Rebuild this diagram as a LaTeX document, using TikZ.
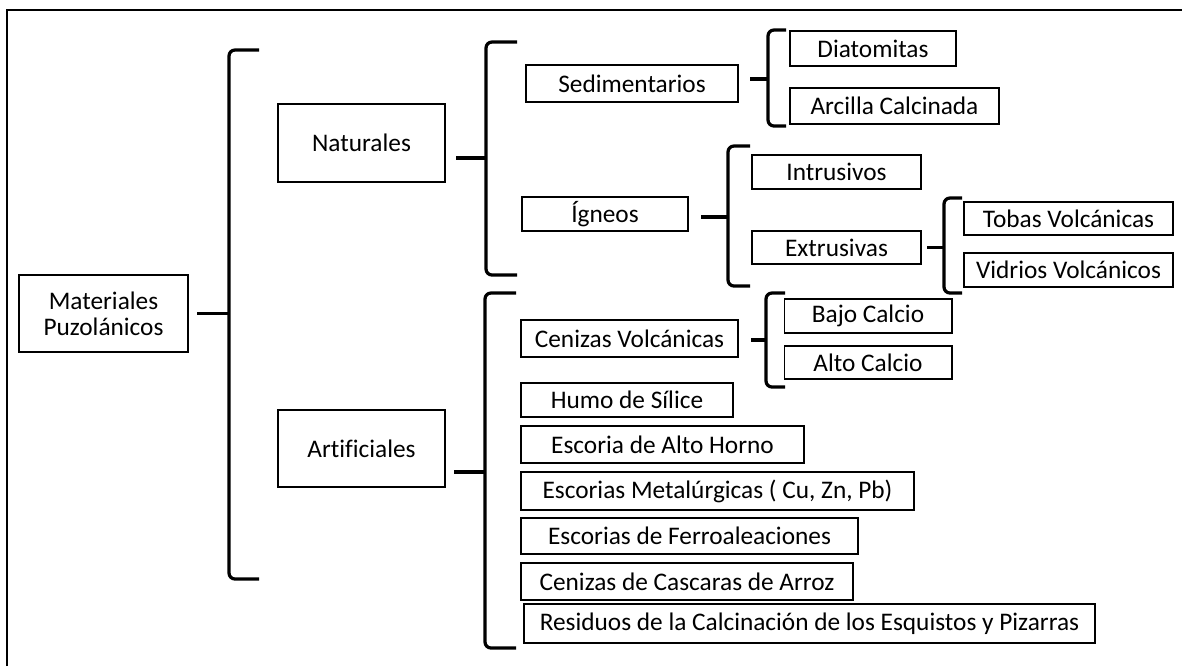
\documentclass[tikz,border=0pt]{standalone}
\usepackage{fontspec}
\setmainfont{Carlito}[Ligatures=NoCommon]
\usepackage{tikz}
\usetikzlibrary{positioning}
\tikzset{
  caja/.style={draw, line width=1.4pt, fill=white, inner sep=0pt, align=center, font=\fontsize{18}{18.5}\selectfont, minimum height=0.875cm},
  llave/.style={line width=2.3pt, rounded corners=0.15cm},
  marco/.style={line width=1.3pt}
}

\begin{document}
\begin{tikzpicture}[x=0.025cm,y=-0.025cm]
  \useasboundingbox (0,0) rectangle (1182,666);
  \draw[marco] (7,666) -- (7,10) -- (1182,10);

  % primer y segundo nivel
  \node[caja, minimum width=4.225cm, minimum height=1.925cm] (mat) at (103.5,313.5) {Materiales\\Puzolánicos};
  \node[caja, minimum width=4.175cm, minimum height=1.95cm] (nat) at (361.5,143) {Naturales};
  \node[caja, minimum width=4.175cm, minimum height=1.925cm] (art) at (361.5,448.5) {Artificiales};

  % naturales
  \node[caja, minimum width=5.3cm, minimum height=0.925cm] (sed) at (632,83.5) {Sedimentarios};
  \node[caja, minimum width=4.15cm, minimum height=0.85cm] (ign) at (605,214) {Ígneos};
  \node[caja, minimum width=4.15cm, minimum height=0.875cm] (dia) at (873,48.5) {Diatomitas};
  \node[caja, minimum width=5.225cm, minimum height=0.9cm] (arc) at (894.5,106) {Arcilla Calcinada};
  \node[caja, minimum width=4.225cm, minimum height=0.85cm] (int) at (836.5,172) {Intrusivos};
  \node[caja, minimum width=4.225cm, minimum height=0.825cm] (ext) at (836.5,247.5) {Extrusivas};
  \node[caja, minimum width=5.225cm, minimum height=0.825cm] (tob) at (1068.5,218.5) {Tobas Volcánicas};
  \node[caja, minimum width=5.225cm, minimum height=0.85cm] (vid) at (1068.5,270) {Vidrios Volcánicos};

  % artificiales
  \node[caja, minimum width=5.425cm, minimum height=0.925cm] (cen) at (629.5,338.5) {Cenizas Volcánicas};
  \node[caja, minimum width=4.175cm, minimum height=0.85cm] (baj) at (868,316) {Bajo Calcio};
  \node[caja, minimum width=4.175cm, minimum height=0.825cm] (alt) at (868,362.5) {Alto Calcio};
  \node[caja, minimum width=5.3cm, minimum height=0.85cm] (hum) at (627,400) {Humo de Sílice};
  \node[caja, minimum width=7.075cm, minimum height=0.925cm] (hor) at (662.5,444.5) {Escoria de Alto Horno};
  \node[caja, minimum width=9.825cm, minimum height=0.95cm] (met) at (717.5,491) {Escorias Metalúrgicas ( Cu, Zn, Pb)};
  \node[caja, minimum width=8.425cm, minimum height=0.9cm] (fer) at (689.5,536) {Escorias de Ferroaleaciones};
  \node[caja, minimum width=8.3cm, minimum height=0.925cm] (arr) at (687,581.5) {Cenizas de Cascaras de Arroz};
  \node[caja, minimum width=14.275cm, minimum height=0.975cm] (res) at (809.5,623.5) {Residuos de la Calcinación de los Esquistos y Pizarras};

  % llaves
  \draw[llave] (mat.east) ++(8,0) -- ++(33,0);
  \draw[llave] (259,50) -- (229,50) -- (229,579) -- (259,579);
  \draw[llave] (nat.east) ++(10,15) -- ++(31,0);
  \draw[llave] (517,42) -- (486,42) -- (486,275) -- (517,275);
  \draw[llave] (art.east) ++(8,23.5) -- ++(32,0);
  \draw[llave] (516,293) -- (485,293) -- (485,648) -- (516,648);
  \draw[llave] (sed.east) ++(11,-4.5) -- ++(19,0);
  \draw[llave] (786,30) -- (768,30) -- (768,126) -- (786,126);
  \draw[llave] (ign.east) ++(12,3) -- ++(28,0);
  \draw[llave] (750,146) -- (728,146) -- (728,286) -- (750,286);
  \draw[llave] (ext.east) ++(5,0) -- ++(18,0);
  \draw[llave] (962,198) -- (944,198) -- (944,293) -- (962,293);
  \draw[llave] (cen.east) ++(12,1.5) -- ++(16,0);
  \draw[llave] (785,293) -- (766,293) -- (766,387) -- (785,387);
\end{tikzpicture}
\end{document}
